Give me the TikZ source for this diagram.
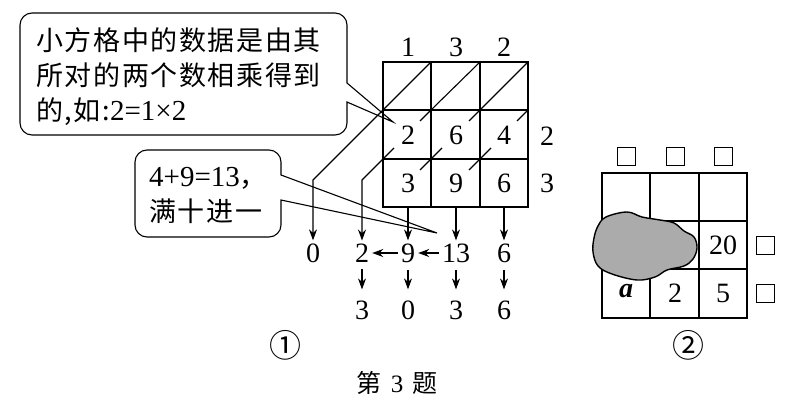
\documentclass[tikz,border=0pt]{standalone}
\usepackage{fontspec}
\usepackage{tikz}
\usetikzlibrary{arrows.meta}
\setmainfont{Liberation Serif}
\newfontfamily\cjk[LetterSpace=6]{Noto Sans CJK SC}
\newfontfamily\cjkplain{Noto Sans CJK SC}

\begin{document}
\begin{tikzpicture}[x=1pt, y=-1pt,
        ln/.style={line width=1.1pt},
        arr/.style={line width=1.1pt, -{Stealth[length=11pt, width=8pt]}},
        num/.style={font=\fontsize{28}{34}\selectfont, inner sep=3pt},
        box/.style={draw, line width=0.9pt, minimum size=18pt, inner sep=0pt},
        talk/.style={font=\cjk\fontsize{27}{35}\selectfont, align=left, inner sep=0pt}
    ]
    \useasboundingbox (0,0) rectangle (795,412);
    % figure 1: lattice
    \draw[ln] (383,62) rectangle (528,207);
    \draw[ln] (431,62) -- (431,207) (480,62) -- (480,207);
    \draw[ln] (383,110) -- (528,110) (383,159) -- (528,159);
    \draw[ln] (383,110) -- (431,62) (431,110) -- (480,62) (480,110) -- (528,62);
    \draw[ln] (431,110) -- (420,121) (480,110) -- (469,121) (528,110) -- (517,121);
    \draw[ln] (442,148) -- (420,170) (491,148) -- (469,170);
    \node[num] (t1) at (408,47) {1};
    \node[num] (t3) at (456,47) {3};
    \node[num] (t2) at (504,47) {2};
    \node[num] (r2) at (547,136) {2};
    \node[num] (r3) at (547,183) {3};
    \node[num] (c21) at (408,135) {2};
    \node[num] (c22) at (456,135) {6};
    \node[num] (c23) at (504,135) {4};
    \node[num] (c31) at (408,183) {3};
    \node[num] (c32) at (456,183) {9};
    \node[num] (c33) at (504,183) {6};
    \coordinate (gb) at (0,207);
    % sums and result
    \node[num] (s0) at (313,253) {0};
    \node[num] (s2) at (362,253) {2};
    \node[num] (s9) at (408,253) {9};
    \node[num] (s13) at (456,253) {13};
    \node[num] (s6) at (504,253) {6};
    \node[num] (b3) at (362,310) {3};
    \node[num] (b0) at (408,310) {0};
    \node[num] (b3b) at (456,310) {3};
    \node[num] (b6) at (504,310) {6};
    \draw[arr] (383,110) -- (313,180) -- (s0);
    \draw[arr] (394,148) -- (362,180) -- (s2);
    \draw[arr] (c31 |- gb) -- (s9);
    \draw[arr] (c32 |- gb) -- (s13);
    \draw[arr] (c33 |- gb) -- (s6);
    \draw[arr] (s13) -- (s9);
    \draw[arr] (s9) -- (s2);
    \draw[arr, shorten <=4pt, shorten >=8pt] (s2) -- (b3);
    \draw[arr, shorten <=4pt, shorten >=8pt] (s9) -- (b0);
    \draw[arr, shorten <=4pt, shorten >=8pt] (s13) -- (b3b);
    \draw[arr, shorten <=4pt, shorten >=8pt] (s6) -- (b6);
    % callouts
    \coordinate (tip1) at (393,122);
    \coordinate (tip2) at (437,233);
    \draw[ln] (347,83) -- (tip1) -- (347,102)
        {[rounded corners=12pt] -- (347,135) -- (20,135) -- (20,13) -- (347,13)} -- cycle;
    \node[talk, anchor=west] (note1) at (36,77)
        {小方格中的数据是由其\\所对的两个数相乘得到\\的,如:{\rmfamily\fontsize{29}{35}\selectfont 2=1×2}};
    \draw[ln] (281,175) -- (tip2) -- (281,200)
        {[rounded corners=12pt] -- (281,237) -- (135,237) -- (135,150) -- (281,150)} -- cycle;
    \node[talk, anchor=west] (note2) at (149,195)
        {{\rmfamily\fontsize{29}{35}\selectfont 4+9=13}，\\满十进一};
    \node[font=\cjkplain\fontsize{32}{34}\selectfont] (lab1) at (285,345) {①};
    % figure 2
    \draw[ln] (602,173) rectangle (747,318);
    \draw[ln] (650,173) -- (650,318) (699,173) -- (699,318);
    \draw[ln] (602,221) -- (747,221) (602,269) -- (747,269);
    \draw[line width=1.4pt, fill=black!33] plot[smooth cycle, tension=0.6] coordinates {
        (598,226) (606,217) (627,212) (642,217) (660,220) (674,223)
        (684,231) (694,237) (697,248) (693,259) (684,266) (667,270)
        (655,277) (637,280) (612,274) (598,266) (593,252) (594,238)};
    \node[box] (q1) at (626,156) {};
    \node[box] (q2) at (675,156) {};
    \node[box] (q3) at (723,156) {};
    \node[box] (q4) at (765,245) {};
    \node[box] (q5) at (765,293) {};
    \node[num] (d20) at (723,245) {20};
    \node[num, font=\fontsize{28}{34}\selectfont\bfseries\itshape] (da) at (626,291) {a};
    \node[num] (d2) at (675,293) {2};
    \node[num] (d5) at (723,293) {5};
    \node[font=\cjkplain\fontsize{32}{34}\selectfont] (lab2) at (688,345) {②};
    \node[font=\cjkplain\fontsize{25}{30}\selectfont] (cap) at (397,383)
        {第\hspace{9pt}{\rmfamily 3}\hspace{9pt}题};
\end{tikzpicture}
\end{document}
